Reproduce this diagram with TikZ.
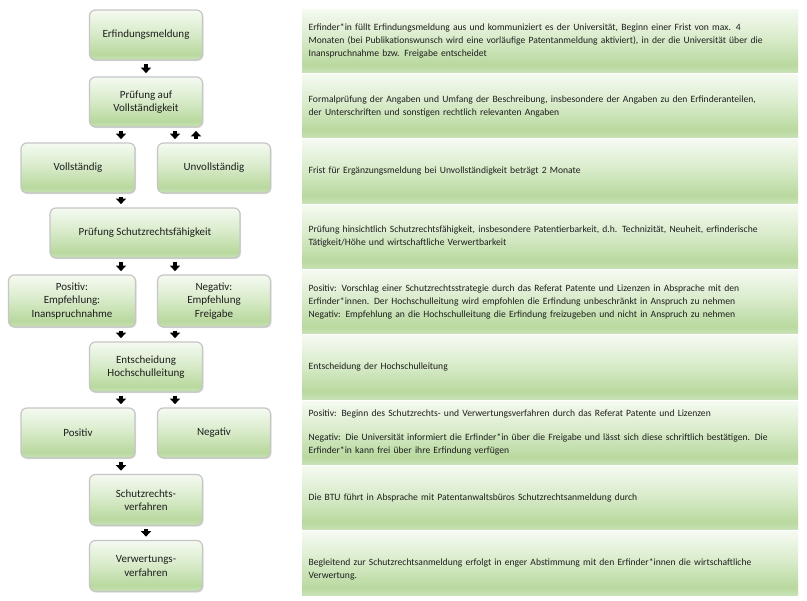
\documentclass[tikz,border=0pt]{standalone}
\usepackage{fontspec}
\setmainfont{Carlito}
\usetikzlibrary{positioning,shadows,arrows.meta}
\definecolor{gruenoben}{HTML}{F5FAF1}
\definecolor{gruenmitte}{HTML}{DAECCC}
\definecolor{gruenunten}{HTML}{B9D99F}
\definecolor{gruenrand}{HTML}{C8E2B5}
\definecolor{rahmen}{HTML}{C6C6C6}
\definecolor{schrift}{HTML}{1E1E1E}
\pgfdeclareverticalshading{gruenverlauf}{100bp}{color(0bp)=(gruenrand); color(25bp)=(gruenrand); color(31bp)=(gruenunten); color(53bp)=(gruenmitte); color(75bp)=(gruenoben); color(100bp)=(gruenoben)}
\tikzset{
  stufe/.style={rectangle, rounded corners=4.5pt, draw=rahmen, line width=0.9pt,
    shading=gruenverlauf, drop shadow={shadow xshift=0.8pt, shadow yshift=-0.8pt, opacity=0.25},
    minimum width=84.75pt, minimum height=37.5pt, inner sep=2pt, align=center,
    font=\fontsize{8.25}{10}\selectfont, text=schrift},
  infobox/.style={rectangle, shading=gruenverlauf, minimum width=372pt, minimum height=47.6pt,
    text width=362pt, inner xsep=5pt, inner ysep=1pt, align=left,
    font=\fontsize{7.2}{9.75}\selectfont, text=schrift},
  pfeil/.style={line width=3pt, -{Triangle[length=4pt,width=7.5pt]}, shorten <=2.5pt, shorten >=2.5pt},
}
\begin{document}
\begin{tikzpicture}[x=0.75pt, y=-0.75pt]
  \fill[white] (0,0) rectangle (807,600);
  \useasboundingbox (0,0) rectangle (807,600);

  % Nodes
  \node[stufe] (erf) at (146,35) {Erfindungsmeldung};
  \node[stufe] (pruef) at (146,102) {Prüfung auf\\Vollständigkeit};
  \node[stufe, minimum width=85.5pt] (voll) at (78,168) {Vollständig};
  \node[stufe] (unvoll) at (214,168) {Unvollständig};
  \node[stufe, minimum width=142.5pt] (schutz) at (145,233) {Prüfung Schutzrechtsfähigkeit};
  \node[stufe, minimum width=95.25pt, minimum height=39pt] (pos) at (72,301) {Positiv:\\Empfehlung:\\Inanspruchnahme};
  \node[stufe, minimum height=39pt] (neg) at (214,301) {Negativ:\\Empfehlung\\Freigabe};
  \node[stufe] (ents) at (146,367) {Entscheidung\\Hochschulleitung};
  \node[stufe, minimum width=85.5pt] (posb) at (78,433) {Positiv};
  \node[stufe] (negb) at (214,433) {Negativ};
  \node[stufe, minimum height=38.25pt] (sv) at (146,500) {Schutzrechts-\\verfahren};
  \node[stufe, minimum height=38.25pt] (vv) at (146,566) {Verwertungs-\\verfahren};

  % Explanations
  \node[infobox] (t1) at (550,40.75) {Erfinder*in füllt Erfindungsmeldung aus und kommuniziert es der Universität, Beginn einer Frist von max. 4\\
    Monaten (bei Publikationswunsch wird eine vorläufige Patentanmeldung aktiviert), in der die Universität über die\\
    Inanspruchnahme bzw. Freigabe entscheidet};
  \node[infobox, below=1pt of t1] (t2) {Formalprüfung der Angaben und Umfang der Beschreibung, insbesondere der Angaben zu den Erfinderanteilen,\\
    der Unterschriften und sonstigen rechtlich relevanten Angaben};
  \node[infobox, below=1pt of t2] (t3) {Frist für Ergänzungsmeldung bei Unvollständigkeit beträgt 2 Monate};
  \node[infobox, below=1pt of t3] (t4) {Prüfung hinsichtlich Schutzrechtsfähigkeit, insbesondere Patentierbarkeit, d.h. Technizität, Neuheit, erfinderische\\
    Tätigkeit/Höhe und wirtschaftliche Verwertbarkeit};
  \node[infobox, below=1pt of t4] (t5) {Positiv: Vorschlag einer Schutzrechtsstrategie durch das Referat Patente und Lizenzen in Absprache mit den\\
    Erfinder*innen. Der Hochschulleitung wird empfohlen die Erfindung unbeschränkt in Anspruch zu nehmen\\
    Negativ: Empfehlung an die Hochschulleitung die Erfindung freizugeben und nicht in Anspruch zu nehmen};
  \node[infobox, below=1pt of t5] (t6) {Entscheidung der Hochschulleitung};
  \node[infobox, below=1pt of t6] (t7) {Positiv: Beginn des Schutzrechts- und Verwertungsverfahren durch das Referat Patente und Lizenzen\\[8pt]
    Negativ: Die Universität informiert die Erfinder*in über die Freigabe und lässt sich diese schriftlich bestätigen. Die\\
    Erfinder*in kann frei über ihre Erfindung verfügen};
  \node[infobox, below=1pt of t7] (t8) {Die BTU führt in Absprache mit Patentanwaltsbüros Schutzrechtsanmeldung durch};
  \node[infobox, below=1pt of t8] (t9) {\rule{0pt}{14.5pt}Begleitend zur Schutzrechtsanmeldung erfolgt in enger Abstimmung mit den Erfinder*innen die wirtschaftliche\\
    Verwertung.};

  % Arrow columns
  \coordinate (mitte) at (146,0);
  \coordinate (links) at (121,0);
  \coordinate (rechts) at (175,0);
  \coordinate (rueck) at (196,0);

  % Edges
  \draw[pfeil] (erf.south -| mitte) -- (pruef.north -| mitte);
  \draw[pfeil] (pruef.south -| links) -- (voll.north -| links);
  \draw[pfeil] (pruef.south -| rechts) -- (unvoll.north -| rechts);
  \draw[pfeil] (unvoll.north -| rueck) -- (pruef.south -| rueck);
  \draw[pfeil] (voll.south -| links) -- (schutz.north -| links);
  \draw[pfeil] (schutz.south -| links) -- (pos.north -| links);
  \draw[pfeil] (schutz.south -| rechts) -- (neg.north -| rechts);
  \draw[pfeil] (pos.south -| links) -- (ents.north -| links);
  \draw[pfeil] (neg.south -| rechts) -- (ents.north -| rechts);
  \draw[pfeil] (ents.south -| links) -- (posb.north -| links);
  \draw[pfeil] (ents.south -| rechts) -- (negb.north -| rechts);
  \draw[pfeil] (posb.south -| links) -- (sv.north -| links);
  \draw[pfeil] (sv.south -| mitte) -- (vv.north -| mitte);
\end{tikzpicture}
\end{document}
